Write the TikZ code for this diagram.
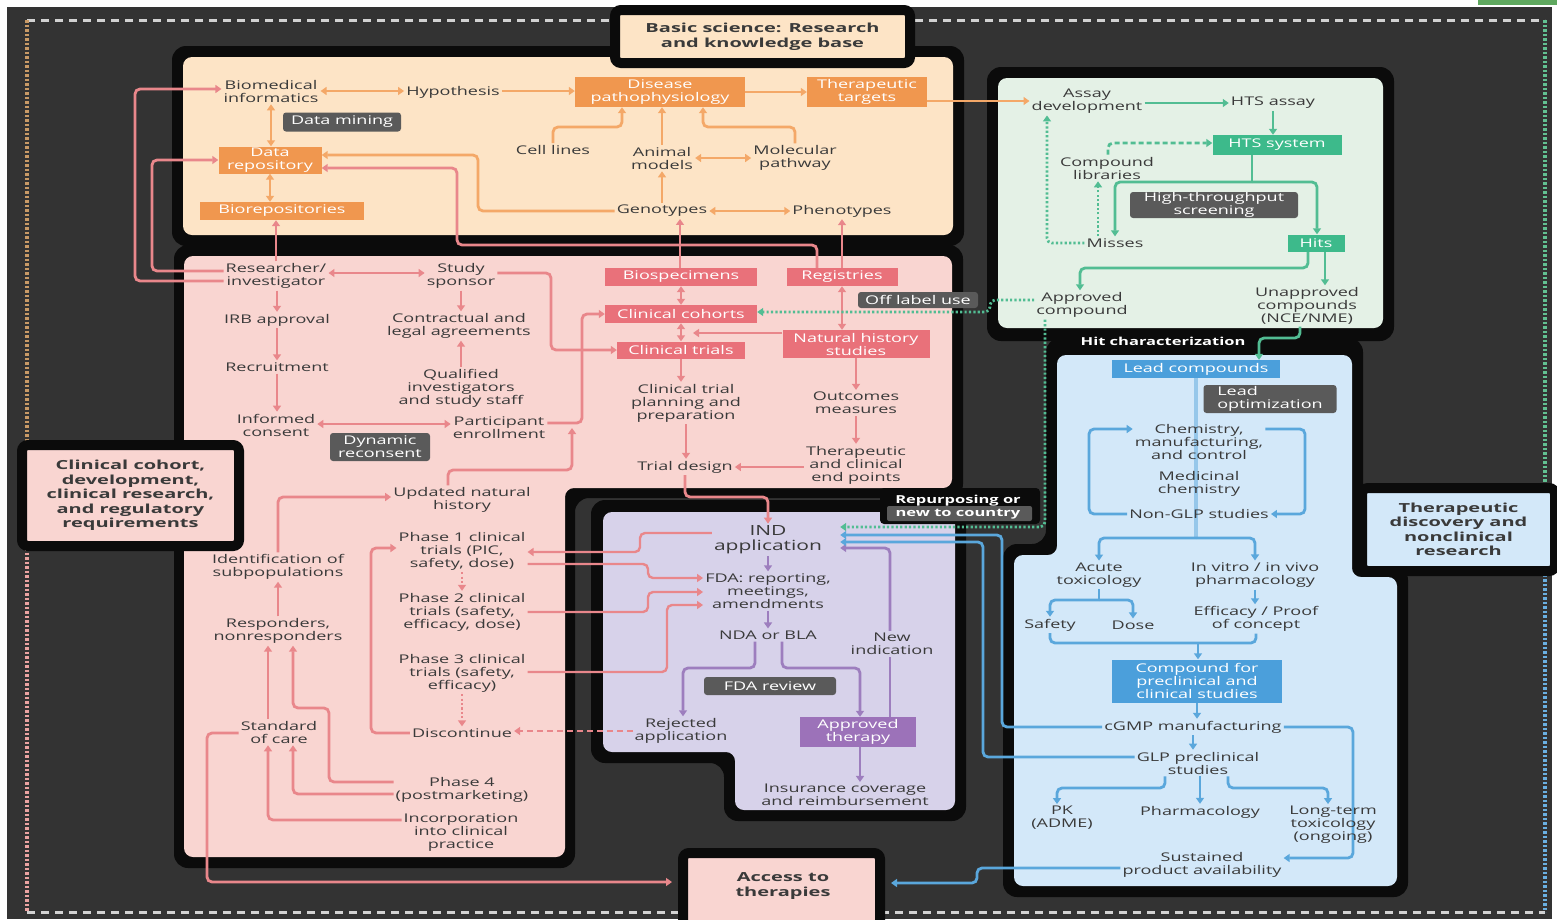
\documentclass[tikz,border=0pt]{standalone}
\usepackage{fontspec}
\setmainfont{Open Sans}[FakeStretch=1.5]
\newfontfamily\labfam{Open Sans}[FakeStretch=1.6]
\usetikzlibrary{arrows.meta}
\pgfdeclarelayer{base}\pgfdeclarelayer{links}\pgfdeclarelayer{front}
\pgfsetlayers{base,links,main,front}

\definecolor{bgc}{HTML}{333333}
\definecolor{frm}{HTML}{0B0B0B}
\definecolor{txt}{HTML}{3A3A3A}
\definecolor{orP}{HTML}{FDE4C6}\definecolor{orB}{HTML}{F0974F}\definecolor{orA}{HTML}{F4A868}
\definecolor{pkP}{HTML}{F9D5D1}\definecolor{pkB}{HTML}{E9717A}\definecolor{pkA}{HTML}{E9878B}
\definecolor{gnP}{HTML}{E4F1E6}\definecolor{gnB}{HTML}{3DBA8B}\definecolor{gnA}{HTML}{52BD93}
\definecolor{buP}{HTML}{D3E8F9}\definecolor{buB}{HTML}{4B9FDB}\definecolor{buA}{HTML}{5AA7DC}
\definecolor{puP}{HTML}{D7D2EA}\definecolor{puB}{HTML}{9C72B9}\definecolor{puA}{HTML}{9D7EBE}
\definecolor{dk}{HTML}{5A5A5A}
\definecolor{dtop}{HTML}{D2D2D2}\definecolor{dtan}{HTML}{C99A66}\definecolor{dpk}{HTML}{EBA3A1}
\definecolor{dgn}{HTML}{62C192}\definecolor{dbu}{HTML}{6AB0E2}\definecolor{barc}{HTML}{5FA85F}

\newcommand\ftx{\fontsize{12}{13}\selectfont}
\newcommand\flab{\labfam\bfseries\fontsize{12.5}{14.5}\selectfont}
\newcommand\fbig{\fontsize{14}{15}\selectfont}
\newcommand\fsmb{\bfseries\fontsize{11}{13}\selectfont}

\begin{document}
\begin{tikzpicture}[x=1pt,y=-1pt,
  >={Triangle[length=6pt,width=8pt]},
  tx/.style={text=txt,align=center,inner sep=2pt,font=\ftx},
  cbox/.style={text=white,align=center,inner sep=0pt,font=\ftx},
  obox/.style={cbox,fill=orB},
  pbox/.style={cbox,fill=pkB},
  gbox/.style={cbox,fill=gnB},
  bbox/.style={cbox,fill=buB},
  ubox/.style={cbox,fill=puB},
  dbox/.style={cbox,fill=dk,rounded corners=3pt},
  lab/.style={draw=frm,line width=10pt,rounded corners=6pt,align=center,inner sep=0pt,text=txt,font=\flab},
  lk/.style={line width=2.8pt,rounded corners=5pt},
  ok/.style={lk,draw=orA},
  pk/.style={lk,draw=pkA},
  gk/.style={lk,draw=gnA},
  bk/.style={lk,draw=buA},
  uk/.style={lk,draw=puA},
  dts/.style={dash pattern=on 2.2pt off 2.2pt},
  dsh/.style={dash pattern=on 5pt off 3pt},
  dashtop/.style={draw=dtop,line width=3pt,dash pattern=on 8pt off 6pt},
  dotl/.style={line width=4pt,dash pattern=on 2.5pt off 2pt}]

\useasboundingbox (0,0) rectangle (1557,919);

% ---------- background, outer frame, panels ----------
\begin{pgfonlayer}{base}
\fill[white] (0,0) rectangle (1557,919);
\fill[bgc] (7,7) rectangle (1552,919);
\fill[barc] (1478,0) rectangle (1557,5);
\draw[dashtop] (27,20) -- (612,20);
\draw[dashtop] (915,20) -- (1545,20);
\draw[dashtop] (27,912) -- (1545,912);
\draw[dotl,draw=dtan] (27,20) -- (27,445);
\draw[dotl,draw=dpk] (27,548) -- (27,912);
\draw[dotl,draw=dgn] (1545,20) -- (1545,488);
\draw[dotl,draw=dbu] (1545,570) -- (1545,912);
% black frames
\fill[frm,rounded corners=14pt] (172,46) rectangle (964,246);
\fill[frm,rounded corners=14pt] (174,245) -- (963,245) -- (963,498) -- (575,498) -- (575,868) -- (174,868) -- cycle;
\fill[frm,rounded corners=14pt] (591,500) -- (966,500) -- (966,821) -- (724,821) -- (724,763) -- (591,763) -- cycle;
\fill[frm,rounded corners=14pt] (987,67) rectangle (1394,341);
\fill[frm,rounded corners=14pt] (1046,338) -- (1363,338) -- (1363,566) -- (1408,566) -- (1408,897) -- (1003,897) -- (1003,544) -- (1046,544) -- cycle;
% panels
\fill[orP,rounded corners=9pt] (183,57) rectangle (953,235);
\fill[pkP,rounded corners=9pt] (184,256) -- (952,256) -- (952,488) -- (565,488) -- (565,857) -- (184,857) -- cycle;
\fill[puP,rounded corners=9pt] (603,512) -- (955,512) -- (955,810) -- (735,810) -- (735,752) -- (603,752) -- cycle;
\fill[gnP,rounded corners=9pt] (998,78) rectangle (1383,328);
\fill[buP,rounded corners=9pt] (1057,355) -- (1352,355) -- (1352,577) -- (1397,577) -- (1397,886) -- (1014,886) -- (1014,555) -- (1057,555) -- cycle;
% repurposing tag
\fill[frm,rounded corners=4pt] (880,488) rectangle (1040,524);
\fill[dk,rounded corners=2pt] (887,506) rectangle (1032,521);
\end{pgfonlayer}

% ---------- basic science ----------
\node[tx] (bio) at (271,91) {Biomedical\\informatics};
\node[tx] (hyp) at (453,92) {Hypothesis};
\node[obox,minimum width=170pt,minimum height=30pt] (dis) at (660,92) {Disease\\pathophysiology};
\node[obox,minimum width=120pt,minimum height=30pt] (tgt) at (867,92) {Therapeutic\\targets};
\node[dbox,minimum width=118pt,minimum height=19pt] (dmin) at (342,122) {Data mining};
\node[obox,minimum width=103pt,minimum height=27pt] (drep) at (270,160) {Data\\repository};
\node[obox,minimum width=164pt,minimum height=18pt] (brep) at (282,211) {Biorepositories};
\node[tx] (cell) at (553,150) {Cell lines};
\node[tx] (anim) at (662,158) {Animal\\models};
\node[tx] (mol) at (795,158) {Molecular\\pathway};
\node[tx] (geno) at (662,211) {Genotypes};
\node[tx] (pheno) at (842,211) {Phenotypes};

% ---------- clinical ----------
\node[tx] (res) at (276,276) {Researcher/\\investigator};
\node[tx] (spon) at (461,276) {Study\\sponsor};
\node[tx] (irb) at (277,320) {IRB approval};
\node[tx] (contr) at (459,326) {Contractual and\\legal agreements};
\node[tx] (recr) at (277,367) {Recruitment};
\node[tx] (qual) at (461,388) {Qualified\\investigators\\and study staff};
\node[tx] (inf) at (276,425) {Informed\\consent};
\node[tx] (part) at (499,428) {Participant\\enrollment};
\node[dbox,minimum width=100pt,minimum height=28pt] (dyn) at (380,447) {Dynamic\\reconsent};
\node[pbox,minimum width=152pt,minimum height=18pt] (bios) at (681,277) {Biospecimens};
\node[pbox,minimum width=111pt,minimum height=18pt] (reg) at (842,277) {Registries};
\node[pbox,minimum width=152pt,minimum height=18pt] (coh) at (681,314) {Clinical cohorts};
\node[pbox,minimum width=128pt,minimum height=17pt] (ctri) at (681,350) {Clinical trials};
\node[pbox,minimum width=147pt,minimum height=28pt] (nat) at (856,344) {Natural history\\studies};
\node[dbox,minimum width=120pt,minimum height=16pt] (off) at (918,300) {Off label use};
\node[tx] (plan) at (686,403) {Clinical trial\\planning and\\preparation};
\node[tx] (outc) at (856,403) {Outcomes\\measures};
\node[tx] (endp) at (856,465) {Therapeutic\\and clinical\\end points};
\node[tx] (tdes) at (685,467) {Trial design};
\coordinate (natjoin) at (693,333);

\node[tx] (upd) at (462,500) {Updated natural\\history};
\node[tx] (ph1) at (462,551) {Phase 1 clinical\\trials (PIC,\\safety, dose)};
\node[tx] (ph2) at (462,612) {Phase 2 clinical\\trials (safety,\\efficacy, dose)};
\node[tx] (ph3) at (462,673) {Phase 3 clinical\\trials (safety,\\efficacy)};
\node[tx] (disc) at (462,733) {Discontinue};
\node[tx] (ident) at (278,567) {Identification of\\subpopulations};
\node[tx] (resp) at (278,631) {Responders,\\nonresponders};
\node[tx] (soc) at (279,732) {Standard\\of care};
\node[tx] (ph4) at (462,790) {Phase 4\\(postmarketing)};
\node[tx] (inc) at (461,833) {Incorporation\\into clinical\\practice};

% ---------- regulatory ----------
\node[tx,font=\fbig] (ind) at (768,540) {IND\\application};
\coordinate (indR) at ([xshift=16pt]ind.east);
\node[tx] (fdar) at (768,591) {FDA: reporting,\\meetings,\\amendments};
\node[tx] (nda) at (768,635) {NDA or BLA};
\node[tx] (newi) at (892,644) {New\\indication};
\node[dbox,minimum width=132pt,minimum height=18pt] (fdarev) at (770,686) {FDA review};
\node[tx] (rej) at (681,731) {Rejected\\application};
\node[ubox,minimum width=116pt,minimum height=30pt] (appr) at (858,732) {Approved\\therapy};
\node[tx] (ins) at (845,795) {Insurance coverage\\and reimbursement};
\node[font=\fsmb,text=white,align=center,inner sep=0pt] (repu) at (958,507) {Repurposing or\\new to country};

% ---------- screening ----------
\node[tx] (assay) at (1087,101) {Assay\\development};
\node[tx] (htsa) at (1273,103) {HTS assay};
\node[gbox,minimum width=129pt,minimum height=20pt] (htss) at (1277,145) {HTS system};
\node[tx] (clib) at (1107,168) {Compound\\libraries};
\node[dbox,minimum width=168pt,minimum height=26pt] (hts) at (1214,205) {High-throughput\\screening};
\node[tx] (miss) at (1115,243) {Misses};
\node[gbox,minimum width=57pt,minimum height=17pt] (hits) at (1316,243) {Hits};
\node[tx] (appc) at (1082,305) {Approved\\compound};
\node[tx] (unap) at (1307,306) {Unapproved\\compounds\\(NCE/NME)};
\node[font=\fsmb,text=white,inner sep=0pt] (hitc) at (1163,341) {Hit characterization};

% ---------- nonclinical ----------
\node[bbox,minimum width=168pt,minimum height=18pt] (lead) at (1196,369) {Lead compounds};
\node[dbox,minimum width=133pt,minimum height=28pt,align=left] (lopt) at (1270,399) {Lead\\optimization};
\node[tx] (cmc) at (1199,442) {Chemistry,\\manufacturing,\\and control};
\node[tx] (medc) at (1199,484) {Medicinal\\chemistry};
\node[tx] (ngl) at (1199,514) {Non-GLP studies};
\coordinate (bfork) at (1196,538);
\node[tx] (acut) at (1099,575) {Acute\\toxicology};
\node[tx] (invit) at (1255,575) {In vitro / in vivo\\pharmacology};
\coordinate (afork) at (1099,600);
\node[tx] (saf) at (1050,625) {Safety};
\node[tx] (dose) at (1133,625) {Dose};
\node[tx] (effi) at (1256,619) {Efficacy / Proof\\of concept};
\coordinate (cfork) at (1198,643);
\node[bbox,minimum width=170pt,minimum height=43pt] (comp) at (1197,681) {Compound for\\preclinical and\\clinical studies};
\node[tx] (cgmp) at (1193,727) {cGMP manufacturing};
\node[tx] (glp) at (1198,763) {GLP preclinical\\studies};
\node[tx] (pkn) at (1062,818) {PK\\(ADME)};
\node[tx] (pharm) at (1200,812) {Pharmacology};
\node[tx] (ltt) at (1333,825) {Long-term\\toxicology\\(ongoing)};
\node[tx] (sust) at (1202,865) {Sustained\\product availability};
\coordinate (htsfork) at (1252,182);

% ---------- section labels ----------
\begin{pgfonlayer}{front}
\node[lab,fill=orP,minimum width=295pt,minimum height=53pt] (title) at (762.5,36.5) {Basic science: Research\\and knowledge base};
\node[lab,fill=pkP,minimum width=217pt,minimum height=101pt] (clab) at (130.5,495.5) {Clinical cohort,\\development,\\clinical research,\\and regulatory\\requirements};
\node[lab,fill=buP,minimum width=193pt,minimum height=83pt] (tlab) at (1458.5,529.5) {Therapeutic\\discovery and\\nonclinical\\research};
\node[lab,fill=pkP,minimum width=197pt,minimum height=82pt] (acc) at (781.5,894) {};
\node[text=txt,align=center,inner sep=0pt,font=\flab] (acct) at (783,886) {Access to\\therapies};
\end{pgfonlayer}

% ---------- connectors ----------
\begin{pgfonlayer}{links}
% basic science
\draw[ok,<->] (bio.east |- 0,91) -- (hyp.west |- 0,91);
\draw[ok,->] (hyp.east |- 0,91) -- (dis.west |- 0,91);
\draw[ok,->] (dis.east) -- (tgt.west);
\draw[ok,<->] (bio.south) -- (bio.south |- drep.north);
\draw[ok,<->] (drep.south) -- (drep.south |- brep.north);
\draw[ok,->] (cell.north) |- (622,127) -- (622,0 |- dis.south);
\draw[ok,->] (anim.north) -- (anim.north |- dis.south);
\draw[ok,->] (mol.north) |- (703,127) -- (703,0 |- dis.south);
\draw[ok,<->] (anim.east) -- (anim.east -| mol.west);
\draw[ok,->] (geno.north) -- (geno.north |- anim.south);
\draw[ok,<->] (geno.east) -- (pheno.west);
\draw[ok,->] (geno.west) -- (478,0 |- geno.west) -- (478,155) -- (drep.east |- 0,155);
\draw[ok,->,line width=2pt] (tgt.east |- 0,101) -- (assay.west |- 0,101);
% clinical to basic science
\draw[pk,->] (res.west |- 0,281) -- (135,281) -- (135,89) -- (bio.west |- 0,89);
\draw[pk,->] (res.west |- 0,271) -- (152,271) -- (152,160) -- (drep.west);
\draw[pk,->] (res.north) -- (res.north |- brep.south);
\draw[pk,->] (817,0 |- reg.north) -- (817,245) -- (457,245) -- (457,168) -- (drep.east |- 0,168);
\draw[pk,->] (680,0 |- bios.north) -- (680,0 |- geno.south);
\draw[pk,->] (pheno.south |- reg.north) -- (pheno.south);
% clinical
\draw[pk,<->] (res.east |- 0,273) -- (spon.west |- 0,273);
\draw[pk,->] (irb.north |- res.south) -- (irb.north);
\draw[pk,->] (irb.south) -- (irb.south |- recr.north);
\draw[pk,->] (recr.south) -- (recr.south |- inf.north);
\draw[pk,->] (spon.south) -- (spon.south |- contr.north);
\draw[pk,->] (qual.north) -- (qual.north |- contr.south);
\draw[pk,<->] (inf.east |- 0,424) -- (part.west |- 0,424);
\draw[pk,->] (spon.east |- 0,273) -- (551,273) -- (551,350) -- (ctri.west |- 0,350);
\draw[pk,->] (part.east |- 0,423) -- (582,423) -- (582,314) -- (coh.west);
\draw[pk,->] (448,0 |- upd.north) -- (448,470) -- (572,470) -- (572,0 |- part.east);
\draw[pk,<->] (bios.south) -- (coh.north);
\draw[pk,<->] (coh.south) -- (ctri.north);
\draw[pk,->] (nat.west |- natjoin) -- (natjoin);
\draw[pk,<->] (reg.south) -- (reg.south |- nat.north);
\draw[pk,->] (ctri.south) -- (ctri.south |- plan.north);
\draw[pk,->] (nat.south) -- (nat.south |- outc.north);
\draw[pk,->] (outc.south) -- (outc.south |- endp.north);
\draw[pk,->] (endp.west |- tdes.east) -- (tdes.east);
\draw[pk,->] (plan.south) -- (plan.south |- tdes.north);
\draw[pk,->] (tdes.south) -- (685,497) -- (768,497) -- (ind.north);
% trials and regulatory
\draw[pk,->,line width=2.4pt] (ind.west |- 0,533) -- (640,533) -- (640,552) -- (ph1.east |- 0,552);
\draw[pk,->,line width=2.4pt] (ph1.east |- 0,564) -- (648,564) -- (648,578) -- (fdar.west |- 0,578);
\draw[pk,->,line width=2.4pt] (ph2.east |- 0,612) -- (648,612) -- (648,592) -- (fdar.west |- 0,592);
\draw[pk,->,line width=2.4pt] (ph3.east |- 0,672) -- (667,672) -- (667,605) -- (fdar.west |- 0,605);
\draw[pk,->,dts] (ph1.south) -- (ph2.north);
\draw[pk,->,dts] (ph3.south) -- (disc.north);
\draw[pk,->] (disc.west) -- (371,0 |- disc.west) -- (371,548) -- (ph1.west |- 0,548);
\draw[pk,->,dash pattern=on 6pt off 4pt] (rej.west |- 0,731) -- (disc.east |- 0,731);
\draw[pk,->] (resp.north) -- (ident.south);
\draw[pk,->] (ident.north) |- (upd.west |- 0,497);
\draw[pk,->] (268,0 |- soc.north) -- (268,0 |- resp.south);
\draw[pk,->] (ph4.west |- 0,782) -- (329,782) -- (329,708) -- (293,708) -- (293,0 |- resp.south);
\draw[pk,->] (ph4.west |- 0,794) -- (293,794) -- (293,0 |- soc.south);
\draw[pk,->] (inc.west |- 0,820) -- (268,820) -- (268,0 |- soc.south);
\draw[pk,->,shorten >=6pt] (soc.west |- 0,733) -- (207,733) -- (207,882) -- (acc.west |- 0,882);
% regulatory
\draw[uk,->] (ind.south) -- (ind.south |- fdar.north);
\draw[uk,->] (fdar.south) -- (fdar.south |- nda.north);
\draw[uk,->] (755,0 |- nda.south) -- (755,668) -- (683,668) -- (683,0 |- rej.north);
\draw[uk,->] (782,0 |- nda.south) -- (782,668) -- (860,668) -- (860,0 |- appr.north);
\draw[uk,->] (860,0 |- appr.south) -- (860,0 |- ins.north);
\draw[uk] (890,0 |- appr.north) -- (890,0 |- newi.south);
\draw[uk,->] (890,0 |- newi.north) -- (890,548) -- (indR |- 0,548);
% screening
\draw[gk,->] (assay.east |- 0,103) -- (htsa.west);
\draw[gk,->] (htsa.south) -- (htsa.south |- htss.north);
\draw[gk,->,dsh] (1108,0 |- clib.north) -- (1108,143) -- (htss.west |- 0,143);
\draw[gk] (1252,0 |- htss.south) -- (htsfork);
\draw[gk,->] (htsfork) -| (1115,0 |- miss.north);
\draw[gk,->] (htsfork) -| (1317,0 |- hits.north);
\draw[gk,->,dts] (1098,0 |- miss.north) -- (1098,0 |- clib.south);
\draw[gk,->,dts] (miss.west) -- (1047,0 |- miss.west) -- (1047,0 |- assay.south);
\draw[gk,->] (1308,0 |- hits.south) -- (1308,268) -- (1080,268) -- (1080,0 |- appc.north);
\draw[gk,->] (1325,0 |- hits.south) -- (1325,0 |- unap.north);
\draw[gk,->] (1300,0 |- unap.south) -- (1300,338) -- (1259,338) -- (1259,0 |- lead.north);
\draw[gk,->,dts] (appc.west |- 0,300) -- (990,300) -- (990,312) -- (coh.east |- 0,312);
\draw[gk,->,dts] (1045,0 |- appc.south) -- (1045,527) -- (indR |- 0,527);
% nonclinical
\draw[bk,line width=4pt,opacity=.5] (lead.south) -- (bfork);
\draw[bk,->] (bfork) -| (acut.north);
\draw[bk,->] (bfork) -| (invit.north);
\draw[bk,->] (ngl.west) -- (1089,0 |- ngl.west) -- (1089,429) -- (cmc.west |- 0,429);
\draw[bk,->] (cmc.east |- 0,429) -- (1305,429) -- (1305,0 |- ngl.east) -- (ngl.east);
\draw[bk] (acut.south) -- (afork);
\draw[bk,->] (afork) -| (saf.north);
\draw[bk,->] (afork) -| (dose.north);
\draw[bk,->] (invit.south) -- (invit.south |- effi.north);
\draw[bk] (saf.south) |- (cfork) -| (effi.south);
\draw[bk,->] (cfork) -- (cfork |- comp.north);
\draw[bk,->] (comp.south) -- (comp.south |- cgmp.north);
\draw[bk,->] (cgmp.south) -- (cgmp.south |- glp.north);
\draw[bk,->] (1165,0 |- glp.south) -- (1165,788) -- (1057,788) -- (1057,0 |- pkn.north);
\draw[bk,->] (pharm.north |- glp.south) -- (pharm.north);
\draw[bk,->] (1228,0 |- glp.south) -- (1228,788) -- (1328,788) -- (1328,0 |- ltt.north);
\draw[bk,->] (cgmp.east) -- (1353,0 |- cgmp.east) -- (1353,858) -- (sust.east |- 0,858);
\draw[bk,->] (cgmp.west) -- (1002,0 |- cgmp.west) -- (1002,535) -- (indR |- 0,535);
\draw[bk,->] (glp.west |- 0,757) -- (983,757) -- (983,542) -- (indR |- 0,542);
\draw[bk,->,shorten >=6pt] (sust.west |- 0,868) -- (977,868) -- (977,883) -- (acc.east |- 0,883);
\end{pgfonlayer}

\end{tikzpicture}
\end{document}
